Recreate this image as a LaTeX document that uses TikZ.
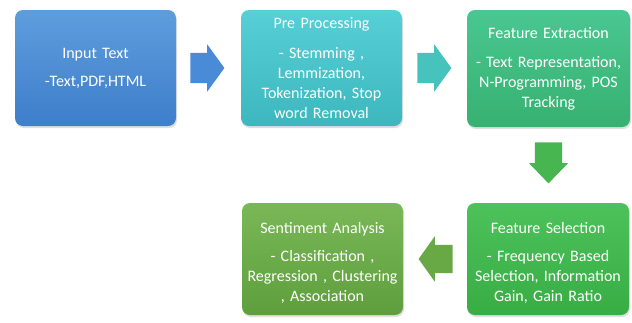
\documentclass[tikz,border=0pt]{standalone}
\usepackage{fontspec}
\setmainfont{Carlito}
\usepackage{xcolor}
\usepackage{tikz}
\usetikzlibrary{shapes,arrows,positioning,calc,shadows}

\definecolor{inblueT}{HTML}{5E9DDC}
\definecolor{inblueB}{HTML}{3E7ECB}
\definecolor{preT}{HTML}{56CFD6}
\definecolor{preB}{HTML}{3DB7BE}
\definecolor{fexT}{HTML}{4AC792}
\definecolor{fexB}{HTML}{36B170}
\definecolor{fselT}{HTML}{4DC25B}
\definecolor{fselB}{HTML}{38AD44}
\definecolor{sentT}{HTML}{7AB857}
\definecolor{sentB}{HTML}{5E9E3D}
\definecolor{arrblue}{HTML}{4A8BD7}
\definecolor{arrteal}{HTML}{46C3BC}
\definecolor{arrgreen}{HTML}{47B650}
\definecolor{arrolive}{HTML}{68A945}

\tikzset{
    box/.style={rectangle, rounded corners=8pt, minimum width=161pt, minimum height=116pt,
        text width=152pt, align=center, text=white, inner sep=0pt,
        font=\fontsize{16}{20}\selectfont,
        drop shadow={opacity=0.25, shadow xshift=1pt, shadow yshift=-2pt}},
    blockarrow/.style={single arrow, inner xsep=0pt, inner ysep=15pt, anchor=tail,
        minimum height=34pt, single arrow head extend=8.5pt, single arrow tip angle=108}
}

\begin{document}
\begin{tikzpicture}[x=1pt,y=-1pt]
    \useasboundingbox (0,0) rectangle (632,322);

    \node[box, top color=inblueT, bottom color=inblueB] (inp) at (95.5,68) {Input Text\\[8pt]-Text,PDF,HTML};
    \node[box, top color=preT, bottom color=preB] (pre) at (321.5,68) {Pre Processing\\[10pt]- Stemming ,\\ Lemmization,\\ Tokenization, Stop\\ word Removal};
    \node[box, top color=fexT, bottom color=fexB, minimum width=163pt, minimum height=117pt] (fex) at (548.5,68.5) {Feature Extraction\\[9pt]- Text Representation,\\ N-Programming, POS\\ Tracking};
    \node[box, top color=fselT, bottom color=fselB, minimum width=162pt, minimum height=112pt] (fsel) at (548,259) {\rule{0pt}{20pt}Feature Selection\\[8pt]- Frequency Based\\ Selection, Information\\ Gain, Gain Ratio};
    \node[box, top color=sentT, bottom color=sentB, minimum height=112pt] (sent) at (322.5,259) {\rule{0pt}{20pt}Sentiment Analysis\\[8pt]- Classification ,\\ Regression , Clustering\\ , Association};

    % Block arrows between the boxes
    \node[blockarrow, fill=arrblue] (a1) at ($(inp.east)+(14,0)$) {};
    \node[blockarrow, fill=arrteal] (a2) at ($(pre.east)+(15,0)$) {};
    \node[blockarrow, fill=arrgreen, rotate=270, inner ysep=13.5pt, minimum height=41pt,
        single arrow head extend=6pt, single arrow tip angle=88] (a3) at ($(fex.south)+(0,15)$) {};
    \node[blockarrow, fill=arrolive, rotate=180, inner ysep=14pt,
        single arrow head extend=8.5pt, single arrow tip angle=109] (a4) at ($(fsel.west)+(-14,0)$) {};
\end{tikzpicture}
\end{document}
